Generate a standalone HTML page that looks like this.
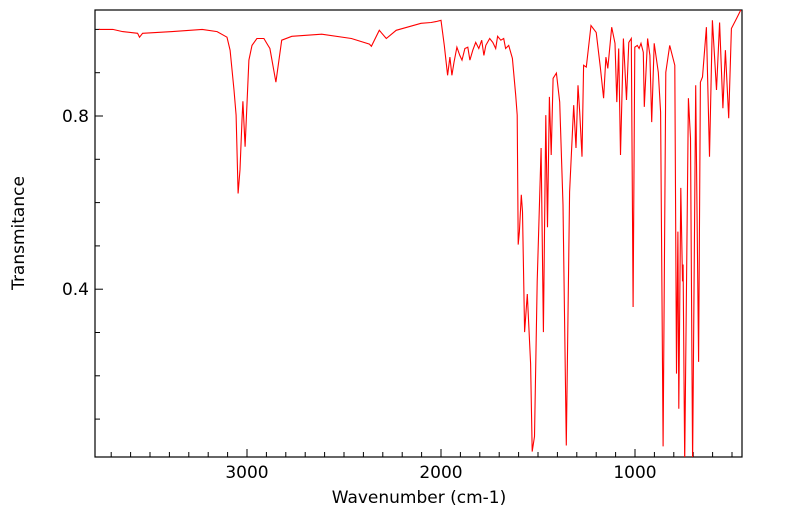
<!DOCTYPE html>
<html><head><meta charset="utf-8"><style>
html,body{margin:0;padding:0;background:#fff;}
svg{display:block;font-family:"DejaVu Sans","Liberation Sans",sans-serif;}
</style></head><body>
<svg id="chart" width="799" height="516">
<defs><clipPath id="plotclip"><rect x="95" y="10" width="647" height="447"/></clipPath></defs>
<rect x="95" y="10" width="647" height="447" fill="#fff" stroke="#000" stroke-width="1.2"/>
<g id="ticks"></g>
<path id="spectrum" fill="none" stroke="#ff0000" stroke-width="1.1" clip-path="url(#plotclip)"/>
<text x="419" y="503" text-anchor="middle" font-size="17">Wavenumber (cm-1)</text>
<text x="24" y="233" text-anchor="middle" font-size="17" transform="rotate(-90 24 233)">Transmitance</text>
</svg>
<script>
const wavenumbers = [3764,3692,3641,3564,3554,3538,3385,3231,3154,3103,3087,3067,3056,3046,3036,3026,3021,3010,2990,2974,2949,2913,2892,2882,2851,2821,2769,2615,2462,2369,2359,2318,2282,2231,2103,2051,2026,2000,1983,1966,1954,1944,1933,1918,1903,1892,1877,1862,1851,1836,1821,1805,1790,1779,1769,1749,1733,1718,1708,1692,1677,1667,1651,1632,1615,1607,1602,1596,1586,1580,1569,1555,1538,1530,1518,1504,1484,1472,1460,1451,1441,1432,1422,1405,1388,1371,1354,1337,1316,1304,1294,1285,1273,1265,1251,1227,1200,1179,1162,1150,1140,1120,1103,1094,1084,1075,1060,1044,1032,1019,1010,1001,988,979,969,957,952,935,923,914,901,880,868,855,841,821,795,786,779,774,764,755,752,744,725,714,703,687,672,663,652,632,616,601,580,564,547,534,517,503,477,451];
const transmittance = [1.000,1.000,0.995,0.991,0.982,0.991,0.995,1.000,0.995,0.982,0.952,0.860,0.802,0.621,0.676,0.791,0.834,0.729,0.929,0.963,0.979,0.979,0.963,0.956,0.878,0.975,0.984,0.989,0.979,0.966,0.961,0.998,0.979,0.998,1.014,1.016,1.018,1.021,0.963,0.894,0.936,0.894,0.924,0.959,0.940,0.929,0.956,0.959,0.929,0.952,0.970,0.956,0.975,0.940,0.963,0.979,0.970,0.956,0.984,0.975,0.979,0.956,0.963,0.933,0.848,0.802,0.503,0.533,0.618,0.579,0.301,0.389,0.228,0.025,0.060,0.418,0.726,0.301,0.802,0.543,0.844,0.710,0.887,0.899,0.832,0.595,0.039,0.625,0.825,0.726,0.871,0.809,0.706,0.917,0.913,1.009,0.993,0.913,0.841,0.936,0.910,1.005,0.968,0.832,0.956,0.710,0.979,0.837,0.970,0.979,0.359,0.959,0.963,0.956,0.968,0.947,0.821,0.979,0.940,0.786,0.968,0.901,0.809,0.037,0.901,0.963,0.917,0.205,0.533,0.124,0.634,0.418,0.457,0.0,0.841,0.749,0.0,0.871,0.232,0.878,0.890,1.005,0.706,1.021,0.860,1.016,0.818,0.952,0.795,1.002,1.025,1.048];
const xTickValues = [3000,2000,1000];
const xTickLabels = ["3000","2000","1000"];
const yTickValues = [0.4,0.8];
const yTickLabels = ["0.4","0.8"];

const X0=95,X1=742,Y0=10,Y1=457;
function xs(w){return 635+(1000-w)*0.194;}
function ys(t){return 116-(t-0.8)*433;}

const g=document.getElementById('ticks');
const NS='http://www.w3.org/2000/svg';
function line(x1,y1,x2,y2,name){
  const l=document.createElementNS(NS,'line');
  l.setAttribute('x1',x1);l.setAttribute('y1',y1);l.setAttribute('x2',x2);l.setAttribute('y2',y2);
  l.setAttribute('stroke','#000');l.setAttribute('stroke-width','1');
  
  
  g.appendChild(l);
}
function text(x,y,s,anchor,name){
  const t=document.createElementNS(NS,'text');
  t.setAttribute('x',x);t.setAttribute('y',y);t.setAttribute('text-anchor',anchor);
  t.setAttribute('font-size','17');t.textContent=s;
  
  
  g.appendChild(t);
}
// x minor ticks every 100
for(let w=3700;w>=500;w-=100){
  const x=xs(w);
  if(x<X0||x>X1)continue;
  const major=(w%1000===0);
  line(x,Y1,x,Y1-(major?8:5),'x-tick');
}
xTickValues.forEach((v,i)=>{text(xs(v),478,xTickLabels[i],'middle','x-tick-label');});
// y ticks every 0.1
for(let k=1;k<=10;k++){
  const v=k/10, y=ys(v);
  if(y<Y0||y>Y1)continue;
  const major=(k===4||k===8);
  line(X0,y,X0+(major?8:5),y,'y-tick');
}
yTickValues.forEach((v,i)=>{text(89,ys(v)+6,yTickLabels[i],'end','y-tick-label');});

let d='';
wavenumbers.forEach((w,i)=>{d+=(i?'L':'M')+xs(w).toFixed(1)+','+ys(transmittance[i]).toFixed(1);});
document.getElementById('spectrum').setAttribute('d',d);
</script>
</body></html>
